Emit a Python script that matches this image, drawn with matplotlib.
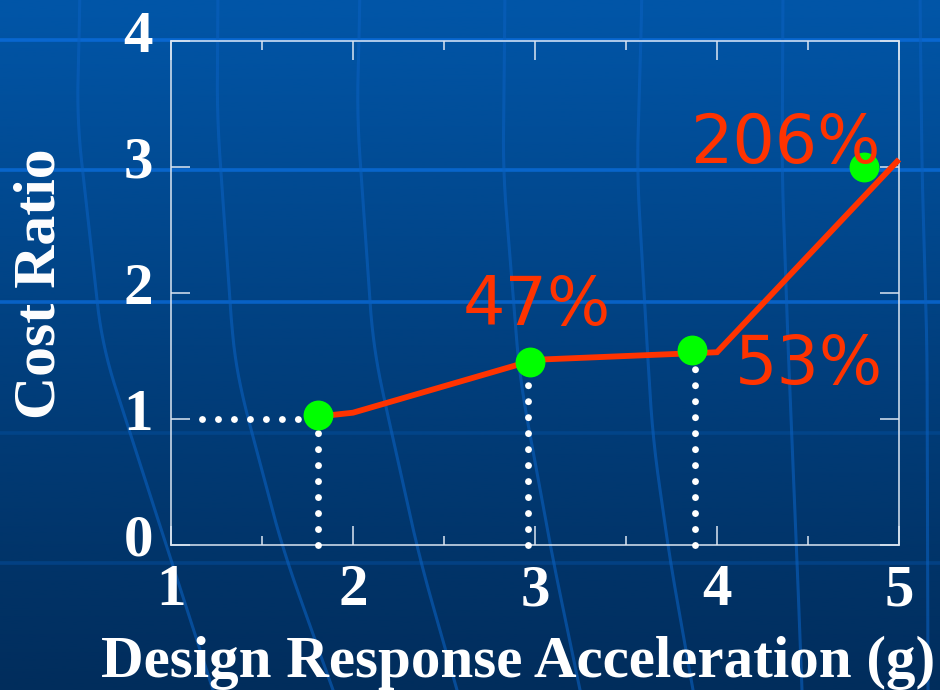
import numpy as np
import matplotlib
matplotlib.use("Agg")
import matplotlib.pyplot as plt
from matplotlib.colors import LinearSegmentedColormap
from matplotlib.transforms import ScaledTranslation

# ---- data -------------------------------------------------------------
# measured design points (green markers)
point_x = [1.81, 2.97, 3.86, 4.81]
point_y = [1.03, 1.45, 1.55, 3.00]

# cost-increase percentages written on the chart
pct_labels = [47, 53, 206]
pct_pos_x = [2.60, 4.10, 3.85]
pct_pos_y = [1.75, 1.28, 3.03]

# piecewise cost-ratio trend (red); values at 3, 4, 5 g follow the percentages
line_x = [1.81, 2.0, 3.0, 4.0, 5.0]
line_y = [1.02, 1.05] + [1 + p / 100 for p in pct_labels]

# reference guides (white dotted)
guide_x = [1.81, 2.96, 3.88]
guide_top = [1.03, 1.45, 1.55]
base_ratio = 1.0
base_start = 1.17

x_ticks = [1, 2, 3, 4, 5]
y_ticks = [0, 1, 2, 3, 4]

# ---- figure -----------------------------------------------------------
W, H = 940, 690
fig = plt.figure(figsize=(W / 100, H / 100), dpi=100)

# slide background: vertical gradient with a faint curved grid
bg = fig.add_axes([0, 0, 1, 1], zorder=0)
bg.set_xlim(0, W)
bg.set_ylim(H, 0)
bg.axis("off")
cmap = LinearSegmentedColormap.from_list("slide", ["#0156A8", "#01407F", "#012D5C"])
bg.imshow(np.linspace(0, 1, 256)[:, None], extent=[0, W, H, 0], cmap=cmap,
          aspect="auto", interpolation="bicubic", zorder=0)

for yy, a in [(40, 0.9), (170, 0.85), (302, 0.8), (433, 0.2), (563, 0.25)]:
    bg.plot([0, W], [yy, yy], color="#0A6AD6", lw=2.6, alpha=a, zorder=1,
            solid_capstyle="butt")

curves = [
    [(80, 0), (77, 120), (102, 345), (113, 380), (213, 690)],
    [(218, 0), (217, 115), (233, 345), (238, 380), (283, 550), (333, 690)],
    [(360, 0), (357, 115), (373, 345), (380, 380), (420, 560), (457, 690)],
    [(505, 0), (503, 170), (517, 345), (520, 380), (553, 560), (580, 690)],
    [(642, 0), (637, 170), (647, 345), (653, 440), (670, 560), (693, 690)],
    [(783, 0), (782, 170), (788, 345), (797, 560), (802, 690)],
    [(920, 0), (922, 170), (927, 345), (928, 690)],
]
ys = np.linspace(-60, H + 60, 400)
kernel = np.ones(41) / 41
for pts in curves:
    px, py = zip(*pts)
    xs = np.interp(ys, py, px)
    # extend linearly beyond the ends, then smooth the polyline
    xs[ys < 0] = px[0]
    slope = (px[-1] - px[-2]) / (py[-1] - py[-2])
    xs[ys > H] = px[-1] + slope * (ys[ys > H] - H)
    xs = np.convolve(np.pad(xs, 20, mode="edge"), kernel, mode="valid")
    bg.plot(xs, ys, color="#0A60BF", lw=2.2, alpha=0.6, zorder=1)

# ---- chart axes ---------------------------------------------------------
ax = fig.add_axes([171 / W, (H - 545) / H, 728 / W, 504 / H], zorder=2)
ax.patch.set_visible(False)
ax.set_xlim(1, 5)
ax.set_ylim(0, 4)

spine_col = "#DCE6F2"
for s in ax.spines.values():
    s.set_color(spine_col)
    s.set_linewidth(1.1)

ax.set_xticks(x_ticks)
ax.set_xticks([1.5, 2.5, 3.5, 4.5], minor=True)
ax.set_yticks(y_ticks)
ax.tick_params(axis="both", which="major", direction="in", length=13.5, width=1.1,
               color=spine_col, top=True, right=True)
ax.tick_params(axis="x", which="minor", direction="in", length=6.5, width=1.1,
               color=spine_col, top=True)
ax.tick_params(axis="x", which="major", pad=14)
ax.tick_params(axis="y", which="major", pad=13)

serif_bold = dict(family="Liberation Serif", weight="bold", size=42.5, color="white")
ax.set_xticklabels([str(v) for v in x_ticks], fontdict=serif_bold)
ax.set_yticklabels([str(v) for v in y_ticks], fontdict=serif_bold)
lift = ScaledTranslation(0, 10 / 100, fig.dpi_scale_trans)
for lbl in ax.get_yticklabels():
    lbl.set_transform(lbl.get_transform() + lift)

# dotted guides
dot_style = dict(color="white", lw=5, linestyle=(0, (0.001, 2.3)),
                 dash_capstyle="round", zorder=3, clip_on=False)
ax.plot([base_start, point_x[0]], [base_ratio, base_ratio], **dot_style)
for gx, gt in zip(guide_x, guide_top):
    ax.plot([gx, gx], [0, gt], **dot_style)

# trend line and design points
ax.plot(line_x, line_y, color="#FF3300", lw=4.2, solid_capstyle="butt",
        solid_joinstyle="miter", zorder=4, clip_on=False)
ax.plot(point_x, point_y, "o", color="#00FF00", markersize=21.5,
        markeredgewidth=0, zorder=5, clip_on=False)

for p, tx, ty in zip(pct_labels, pct_pos_x, pct_pos_y):
    ax.text(tx, ty, f"{p}%", family="DejaVu Sans", size=48, color="#FF3300",
            ha="left", va="baseline", zorder=6)

fig.text(518 / W, (H - 677) / H, "Design Response Acceleration (g)",
         ha="center", va="baseline", **serif_bold)
fig.text(41 / W, (H - 284) / H, "Cost Ratio", rotation=90,
         ha="center", va="center", **dict(serif_bold, size=43))

fig.savefig("out.png", dpi=100)
